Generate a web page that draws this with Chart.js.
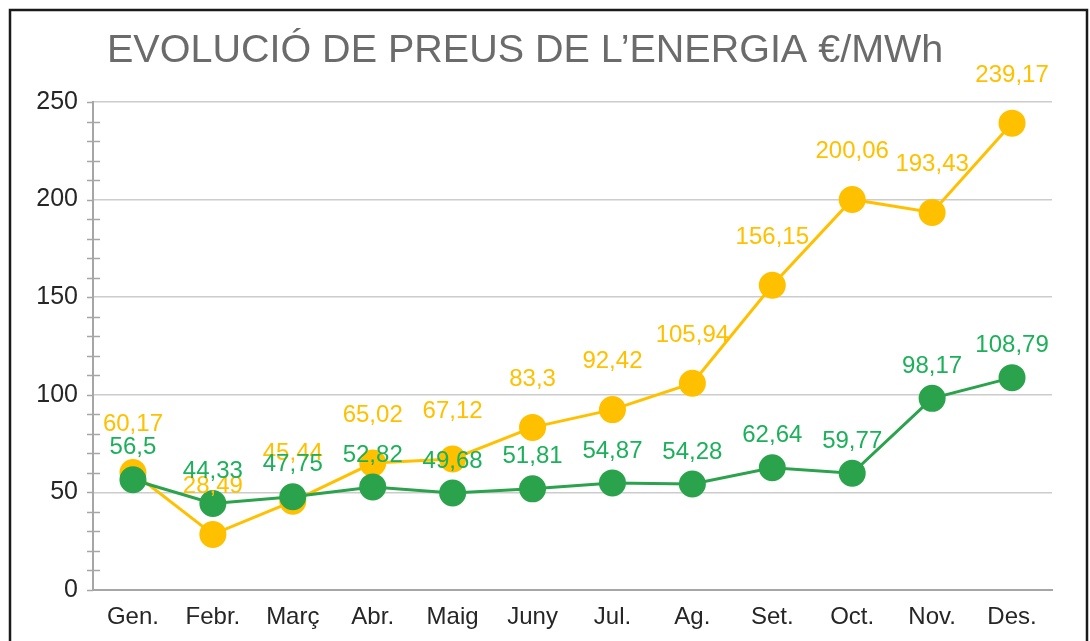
<!DOCTYPE html>
<html>
<head>
<meta charset="utf-8">
<script src="https://cdn.jsdelivr.net/npm/chart.js@4.4.1/dist/chart.umd.min.js"></script>
<style>
html,body{margin:0;padding:0;background:#fff;}
#wrap{position:relative;width:1090px;height:641px;}
canvas{display:block;}
</style>
</head>
<body>
<div id="wrap"><canvas id="c" width="1090" height="641"></canvas></div>
<script>
const titleText = "EVOLUCIÓ DE PREUS DE L’ENERGIA €/MWh";
const categories = ["Gen.", "Febr.", "Març", "Abr.", "Maig", "Juny", "Jul.", "Ag.", "Set.", "Oct.", "Nov.", "Des."];
const seriesOrange = [60.17, 28.49, 45.44, 65.02, 67.12, 83.3, 92.42, 105.94, 156.15, 200.06, 193.43, 239.17];
const seriesGreen = [56.5, 44.33, 47.75, 52.82, 49.68, 51.81, 54.87, 54.28, 62.64, 59.77, 98.17, 108.79];
const yTicks = [0, 50, 100, 150, 200, 250];

const ORANGE = "#FFC000";
const GREEN = "#2BA24C";
const GREEN_LABEL = "#1DB05A";
const FONT = "'Liberation Sans', Arial, sans-serif";

const framePlugin = {
  id: 'frame',
  beforeDraw(chart) {
    const ctx = chart.ctx;
    ctx.save();
    ctx.fillStyle = '#fff';
    ctx.fillRect(0, 0, chart.width, chart.height);
    ctx.strokeStyle = '#1a1a1a';
    ctx.lineWidth = 2.5;
    ctx.beginPath();
    ctx.moveTo(10, chart.height + 5);
    ctx.lineTo(10, 10);
    ctx.lineTo(1087, 10);
    ctx.lineTo(1087, chart.height + 5);
    ctx.stroke();
    // title
    ctx.fillStyle = '#6b6b6b';
    ctx.font = "39.5px " + FONT;
    ctx.textBaseline = 'alphabetic';
    ctx.textAlign = 'left';
    ctx.fillText(titleText, 107, 62);
    ctx.restore();
  }
};

const minorTickPlugin = {
  id: 'minorTicks',
  afterDraw(chart) {
    const ctx = chart.ctx;
    const y = chart.scales.y;
    const x0 = chart.chartArea.left;
    ctx.save();
    ctx.strokeStyle = '#a6a6a6';
    ctx.lineWidth = 1.5;
    for (let v = 0; v <= 250; v += 10) {
      const py = Math.round(y.getPixelForValue(v)) + 0.5;
      ctx.beginPath();
      ctx.moveTo(x0 - 6, py);
      ctx.lineTo(x0 + (v % 50 === 0 ? 0 : 7), py);
      ctx.stroke();
    }
    ctx.restore();
  }
};

const labelPlugin = {
  id: 'valueLabels',
  afterDatasetsDraw(chart) {
    const ctx = chart.ctx;
    ctx.save();
    ctx.font = "24px " + FONT;
    ctx.textAlign = 'center';
    ctx.textBaseline = 'middle';
    // draw orange (index 1) first, then green (index 0) on top
    [1, 0].forEach(di => {
      const ds = chart.data.datasets[di];
      const meta = chart.getDatasetMeta(di);
      ctx.fillStyle = ds.labelColor;
      meta.data.forEach((pt, i) => {
        const txt = String(ds.data[i]).replace('.', ',');
        ctx.fillText(txt, pt.x, pt.y - ds.labelOffset);
      });
    });
    ctx.restore();
  }
};

new Chart(document.getElementById('c'), {
  type: 'line',
  data: {
    labels: categories,
    datasets: [
      {
        label: 'Verd',
        data: seriesGreen,
        borderColor: GREEN,
        backgroundColor: GREEN,
        pointBackgroundColor: GREEN,
        pointBorderColor: GREEN,
        borderWidth: 3,
        pointRadius: 12,
        pointHoverRadius: 12,
        tension: 0,
        labelColor: GREEN_LABEL,
        labelOffset: 32
      },
      {
        label: 'Taronja',
        data: seriesOrange,
        borderColor: ORANGE,
        backgroundColor: ORANGE,
        pointBackgroundColor: ORANGE,
        pointBorderColor: ORANGE,
        borderWidth: 3,
        pointRadius: 12,
        pointHoverRadius: 12,
        tension: 0,
        labelColor: ORANGE,
        labelOffset: 48
      }
    ]
  },
  options: {
    responsive: false,
    animation: false,
    events: [],
    layout: { padding: { left: 0, right: 38, top: 102, bottom: 0 } },
    plugins: {
      legend: { display: false },
      title: { display: false },
      tooltip: { enabled: false }
    },
    scales: {
      x: {
        type: 'category',
        offset: true,
        grid: { display: false, drawTicks: false },
        border: { display: true, color: '#a6a6a6', width: 2 },
        ticks: {
          color: '#262626',
          font: { family: FONT, size: 24 },
          padding: 13,
          maxRotation: 0
        },
        afterFit(s) { s.height = 51; }
      },
      y: {
        min: 0,
        max: 250,
        afterBuildTicks(s) { s.ticks = yTicks.map(v => ({ value: v })); },
        grid: { color: '#cccccc', lineWidth: 1.5, drawTicks: false },
        border: { display: true, color: '#a6a6a6', width: 2 },
        ticks: {
          color: '#262626',
          font: { family: FONT, size: 25 },
          padding: 15
        },
        afterFit(s) { s.width = 93; }
      }
    }
  },
  plugins: [framePlugin, minorTickPlugin, labelPlugin]
});
</script>
</body>
</html>
